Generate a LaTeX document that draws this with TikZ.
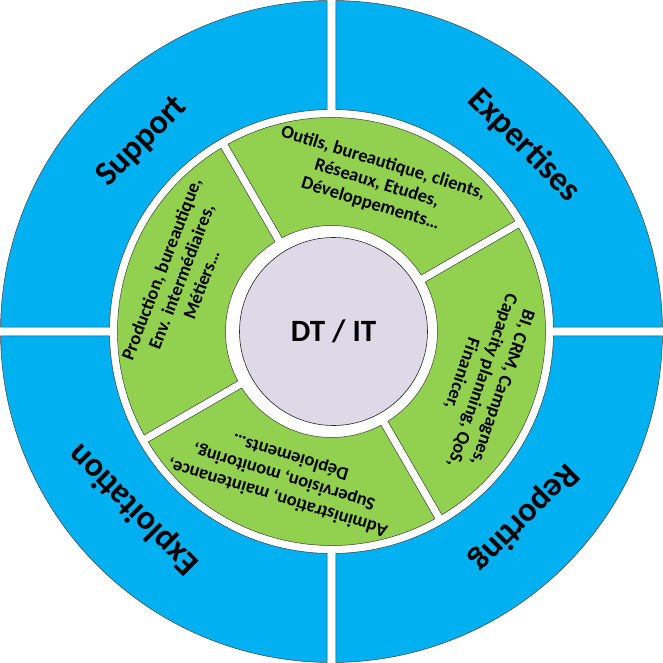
\documentclass[tikz,border=0pt]{standalone}
\usepackage{fontspec}
\setmainfont{Carlito}
\definecolor{ringblue}{RGB}{0,176,240}
\definecolor{ringgreen}{RGB}{146,208,80}
\definecolor{coregray}{RGB}{221,217,231}
\tikzset{%
  part/.style={draw=black!75,line width=0.5pt}, % outline of the ring pieces
  bluelabel/.style={font=\bfseries\fontsize{34}{40}\selectfont},%
  greenlabel/.style={font=\bfseries\fontsize{18.5}{21.5}\selectfont,align=center},%
  core/.style={circle,draw=black!85,line width=0.6pt,fill=coregray,%
    minimum size=188,inner sep=0pt,font=\bfseries\fontsize{31}{36}\selectfont}%
}
\newcommand{\ringpart}[6]{% start, end, inner, outer, half gap, colour
  \draw[part,fill=#6] ({#1+asin(#5/#4)}:#4)
    arc[start angle={#1+asin(#5/#4)},end angle={#2-asin(#5/#4)},radius=#4]
    -- ({#2-asin(#5/#3)}:#3)
    arc[start angle={#2-asin(#5/#3)},end angle={#1+asin(#5/#3)},radius=#3]
    -- cycle;
}

\begin{document}
\begin{tikzpicture}[x=1pt,y=1pt]
  \useasboundingbox (-331.5,-331.5) rectangle (331.5,331.5);
  % outer ring
  \foreach \a in {0,90,180,270}
    \ringpart{\a}{\a+90}{222}{331}{4.5}{ringblue};
  % inner ring
  \foreach \a in {30,120,210,300}
    \ringpart{\a}{\a+90}{106}{214}{4}{ringgreen};
  % centre
  \node[core] (dt) at (2,0) {DT / IT};
  % outer labels
  \node[bluelabel,rotate=45]   (support) at (135:268) {Support};
  \node[bluelabel,rotate=-45]  (expert)  at (44:268)  {Expertises};
  \node[bluelabel,rotate=-135] (report)  at (-44:268) {Reporting};
  \node[bluelabel,rotate=135]  (exploit) at (222:266) {Exploitation};
  % inner labels
  \node[greenlabel,rotate=-17] (tools) at (73:155)
    {Outils, bureautique, clients,\\Réseaux, Etudes,\\Développements…};
  \node[greenlabel,rotate=69] (prod) at (160:160)
    {Production, bureautique,\\Env. intermédiaires,\\Métiers…};
  \node[greenlabel,rotate=163] (admin) at (252:153)
    {Administration, maintenance,\\Supervision, monitoring,\\Déploiements…};
  \node[greenlabel,rotate=-109] (bi) at (-18:158)
    {BI, CRM, Campagnes,\\Capacity planning, QoS,\\Finanicer,};
\end{tikzpicture}
\end{document}
